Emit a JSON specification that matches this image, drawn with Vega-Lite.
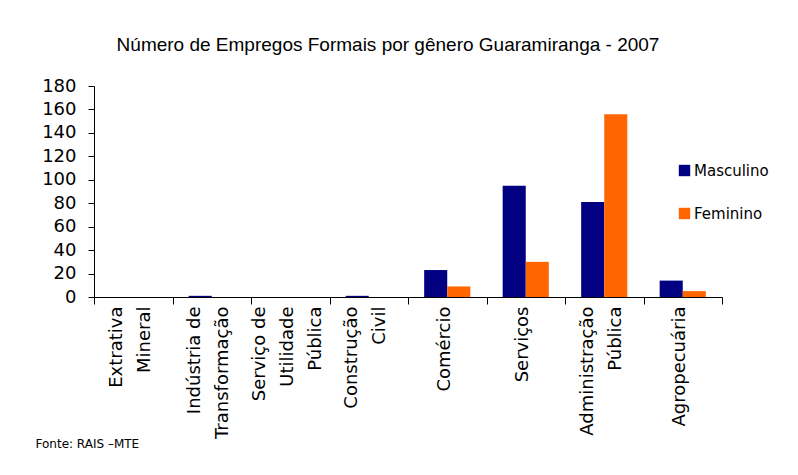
{
  "$schema": "https://vega.github.io/schema/vega-lite/v6.json",
  "autosize": {"type": "none"},
  "padding": {"left": 94, "top": 86, "right": 76, "bottom": 178},
  "width": 628,
  "height": 211,
  "background": "white",
  "title": {
    "text": "Número de Empregos Formais por gênero Guaramiranga  - 2007",
    "anchor": "middle",
    "frame": "group",
    "dx": -20,
    "offset": 22,
    "font": "Liberation Sans",
    "fontSize": 19,
    "fontWeight": "normal",
    "color": "black"
  },
  "data": {
    "values": [
      {"setor": "Extrativa\nMineral", "genero": "Masculino", "empregos": 0},
      {"setor": "Extrativa\nMineral", "genero": "Feminino", "empregos": 0},
      {"setor": "Indústria de\nTransformação", "genero": "Masculino", "empregos": 1},
      {"setor": "Indústria de\nTransformação", "genero": "Feminino", "empregos": 0},
      {"setor": "Serviço de\nUtilidade\nPública", "genero": "Masculino", "empregos": 0},
      {"setor": "Serviço de\nUtilidade\nPública", "genero": "Feminino", "empregos": 0},
      {"setor": "Construção\nCivil", "genero": "Masculino", "empregos": 1},
      {"setor": "Construção\nCivil", "genero": "Feminino", "empregos": 0},
      {"setor": "Comércio", "genero": "Masculino", "empregos": 23},
      {"setor": "Comércio", "genero": "Feminino", "empregos": 9},
      {"setor": "Serviços", "genero": "Masculino", "empregos": 95},
      {"setor": "Serviços", "genero": "Feminino", "empregos": 30},
      {"setor": "Administração\nPública", "genero": "Masculino", "empregos": 81},
      {"setor": "Administração\nPública", "genero": "Feminino", "empregos": 156},
      {"setor": "Agropecuária", "genero": "Masculino", "empregos": 14},
      {"setor": "Agropecuária", "genero": "Feminino", "empregos": 5}
    ]
  },
  "mark": {"type": "bar"},
  "encoding": {
    "x": {
      "field": "setor",
      "type": "nominal",
      "sort": null,
      "scale": {"paddingInner": 0, "paddingOuter": 0},
      "axis": {
        "title": "Fonte: RAIS –MTE",
        "titleX": -59,
        "titleY": 146,
        "titleAlign": "left",
        "titleBaseline": "middle",
        "titleAnchor": null,
        "titleFont": "DejaVu Sans",
        "titleFontSize": 12,
        "titleFontWeight": "normal",
        "titleColor": "black",
        "labelExpr": "datum.value ? split(datum.value, '\\n') : ''",
        "labelAngle": -90,
        "labelFont": "DejaVu Sans",
        "labelFontSize": 18,
        "labelColor": "black",
        "labelLineHeight": 28,
        "labelPadding": 2,
        "labelLimit": 300,
        "labelOffset": {
          "condition": [
            {"test": "datum.value && length(split(datum.value, '\\n')) == 3", "value": -31},
            {"test": "datum.value && length(split(datum.value, '\\n')) == 2", "value": -17}
          ],
          "value": -3
        },
        "tickBand": "extent",
        "tickSize": 7,
        "tickColor": "black",
        "domainColor": "black",
        "grid": false
      }
    },
    "xOffset": {
      "field": "genero",
      "type": "nominal",
      "sort": ["Masculino", "Feminino"],
      "scale": {"paddingInner": 0, "paddingOuter": 0.7}
    },
    "y": {
      "field": "empregos",
      "type": "quantitative",
      "scale": {"domain": [0, 180], "nice": false},
      "axis": {
        "title": null,
        "values": [0, 20, 40, 60, 80, 100, 120, 140, 160, 180],
        "labelFont": "DejaVu Sans",
        "labelFontSize": 18,
        "labelColor": "black",
        "labelPadding": 12,
        "tickSize": 6,
        "tickColor": "black",
        "domainColor": "black",
        "grid": false
      }
    },
    "color": {
      "field": "genero",
      "type": "nominal",
      "scale": {"domain": ["Masculino", "Feminino"], "range": ["#000080", "#FF6600"]},
      "legend": {
        "title": null,
        "orient": "none",
        "legendX": 583,
        "legendY": 77,
        "symbolType": "square",
        "symbolSize": 130,
        "symbolStrokeWidth": 0,
        "symbolOpacity": 1,
        "labelFont": "DejaVu Sans",
        "labelFontSize": 15,
        "labelColor": "black",
        "labelOffset": 2,
        "rowPadding": 27
      }
    }
  },
  "config": {
    "view": {"stroke": null}
  }
}
